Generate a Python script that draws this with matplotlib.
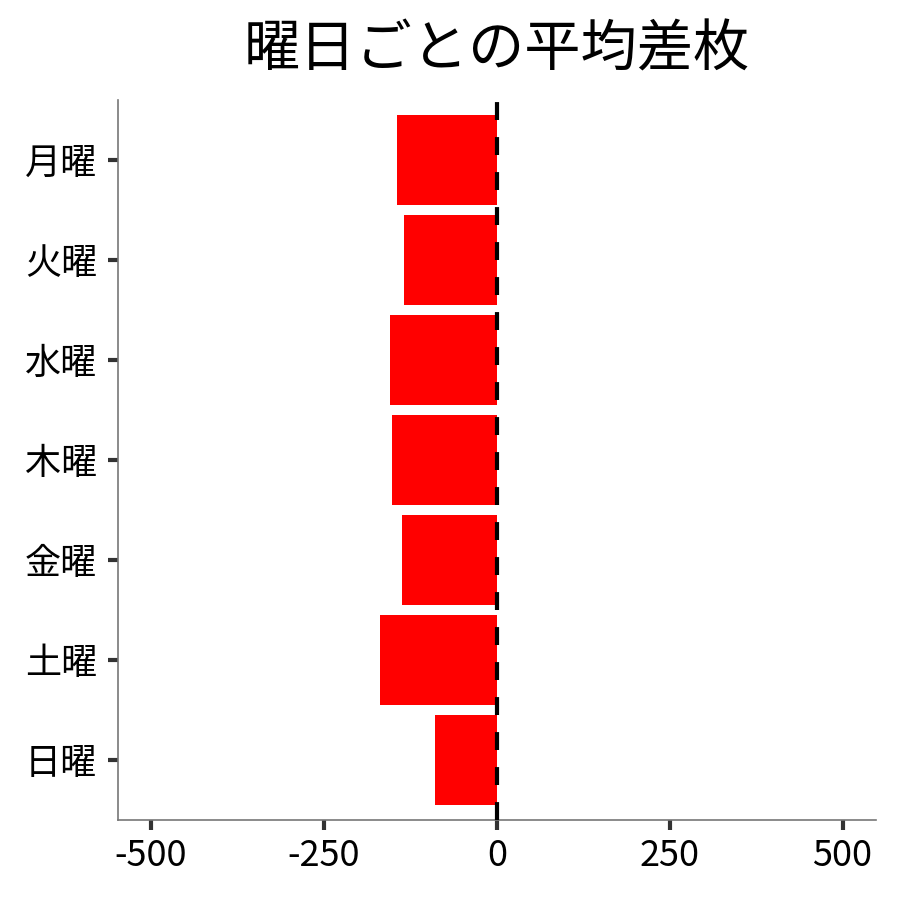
import matplotlib
matplotlib.use('Agg')
import matplotlib.pyplot as plt

plt.rcParams['font.family'] = ['Noto Sans CJK JP', 'DejaVu Sans']

# 曜日ごとの平均差枚
days = ['月曜', '火曜', '水曜', '木曜', '金曜', '土曜', '日曜']
avg_diff = [-145, -134, -155, -152, -137, -169, -90]
xticks = [-500, -250, 0, 250, 500]

fig = plt.figure(figsize=(9, 9), dpi=100)
ax = fig.add_axes([0.131, 0.089, 0.842, 0.8])

ax.barh(range(len(days)), avg_diff, height=0.9, color='#ff0000', zorder=2)
ax.axvline(0, color='black', linewidth=3, linestyle=(0, (4.3, 4.1)), zorder=3)

ax.set_yticks(range(len(days)))
ax.set_yticklabels(days)
ax.set_ylim(6.6, -0.6)
ax.set_xlim(-548, 548)
ax.set_xticks(xticks)
ax.set_xticklabels([str(v) for v in xticks])

ax.tick_params(axis='both', labelsize=26, length=7, width=3, color='#333333', pad=6)
ax.tick_params(axis='y', pad=8)
for side in ['top', 'right']:
    ax.spines[side].set_visible(False)
for side in ['left', 'bottom']:
    ax.spines[side].set_color('#777777')
    ax.spines[side].set_linewidth(1.2)

ax.set_title('曜日ごとの平均差枚', fontsize=40.5, pad=24)

fig.savefig('out.png', dpi=100)
